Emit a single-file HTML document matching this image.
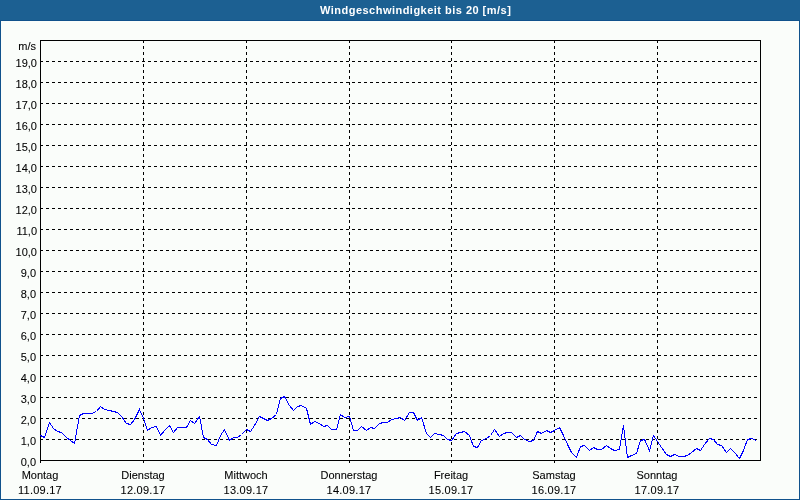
<!DOCTYPE html>
<html><head><meta charset="utf-8"><style>
html,body{margin:0;padding:0;}
body{width:800px;height:500px;position:relative;overflow:hidden;background:#fafdfa;font-family:"Liberation Sans",sans-serif;font-size:11px;color:#000;}
#frame{position:absolute;left:0;top:0;width:798px;height:478px;border:1px solid #10528c;border-top:none;top:21px;}
#title{position:absolute;left:0;top:0;width:800px;height:20px;background:#1c6092;}
#tline{position:absolute;left:0;top:20px;width:800px;height:1px;background:#10528c;}
#ttext{position:absolute;left:320px;top:3px;color:#fff;font-weight:bold;font-size:11px;white-space:nowrap;line-height:14px;letter-spacing:0.48px;}
.yl{position:absolute;left:0;width:37px;text-align:right;line-height:14px;white-space:nowrap;}
.xl{position:absolute;width:120px;text-align:center;line-height:14px;white-space:nowrap;}
#ms{position:absolute;left:0;width:36px;text-align:right;top:39px;line-height:14px;}
svg{position:absolute;left:0;top:0;}
#txt{position:absolute;left:0;top:0;width:800px;height:500px;will-change:transform;-webkit-text-stroke:0.08px #000;}
#tt{position:absolute;left:0;top:0;width:800px;height:21px;will-change:transform;}
</style></head><body>
<div id="title"></div><div id="tline"></div>
<div id="frame"></div>
<div id="tt"><div id="ttext">Windgeschwindigkeit bis 20 [m/s]</div></div>
<svg width="800" height="500" viewBox="0 0 800 500" shape-rendering="crispEdges">
<g stroke="#000" stroke-width="1" stroke-dasharray="3 3" fill="none">
<line x1="40" y1="439.5" x2="760" y2="439.5"/>
<line x1="40" y1="418.5" x2="760" y2="418.5"/>
<line x1="40" y1="397.5" x2="760" y2="397.5"/>
<line x1="40" y1="376.5" x2="760" y2="376.5"/>
<line x1="40" y1="355.5" x2="760" y2="355.5"/>
<line x1="40" y1="334.5" x2="760" y2="334.5"/>
<line x1="40" y1="313.5" x2="760" y2="313.5"/>
<line x1="40" y1="292.5" x2="760" y2="292.5"/>
<line x1="40" y1="271.5" x2="760" y2="271.5"/>
<line x1="40" y1="250.5" x2="760" y2="250.5"/>
<line x1="40" y1="229.5" x2="760" y2="229.5"/>
<line x1="40" y1="208.5" x2="760" y2="208.5"/>
<line x1="40" y1="187.5" x2="760" y2="187.5"/>
<line x1="40" y1="166.5" x2="760" y2="166.5"/>
<line x1="40" y1="145.5" x2="760" y2="145.5"/>
<line x1="40" y1="124.5" x2="760" y2="124.5"/>
<line x1="40" y1="103.5" x2="760" y2="103.5"/>
<line x1="40" y1="82.5" x2="760" y2="82.5"/>
<line x1="40" y1="61.5" x2="760" y2="61.5"/>
<line x1="143.5" y1="40" x2="143.5" y2="460"/>
<line x1="246.5" y1="40" x2="246.5" y2="460"/>
<line x1="349.5" y1="40" x2="349.5" y2="460"/>
<line x1="451.5" y1="40" x2="451.5" y2="460"/>
<line x1="554.5" y1="40" x2="554.5" y2="460"/>
<line x1="657.5" y1="40" x2="657.5" y2="460"/>
</g>
<g stroke="#000" stroke-width="1" fill="none">
<rect x="40.5" y="40.5" width="720" height="420"/>
<line x1="40.5" y1="460" x2="40.5" y2="463"/>
<line x1="143.5" y1="460" x2="143.5" y2="463"/>
<line x1="246.5" y1="460" x2="246.5" y2="463"/>
<line x1="349.5" y1="460" x2="349.5" y2="463"/>
<line x1="451.5" y1="460" x2="451.5" y2="463"/>
<line x1="554.5" y1="460" x2="554.5" y2="463"/>
<line x1="657.5" y1="460" x2="657.5" y2="463"/>
</g>
<polyline fill="none" stroke="#0000ff" stroke-width="1" points="40.5,435.5 44.5,437.5 49.5,422.5 53.5,428.5 57.5,431.5 61.5,432.5 66.5,437.5 70.5,440.5 74.5,443.5 79.5,415.5 83.5,413.5 87.5,413.5 91.5,413.5 96.5,411.5 100.5,406.5 104.5,409.5 109.5,410.5 113.5,411.5 117.5,412.5 121.5,416.5 126.5,423.5 130.5,424.5 134.5,419.5 139.5,409.5 143.5,418.5 147.5,430.5 151.5,427.5 156.5,426.5 160.5,435.5 164.5,430.5 169.5,425.5 173.5,432.5 177.5,427.5 181.5,427.5 186.5,427.5 190.5,420.5 194.5,423.5 199.5,416.5 203.5,437.5 207.5,439.5 211.5,444.5 216.5,445.5 220.5,435.5 224.5,429.5 229.5,440.5 233.5,437.5 237.5,437.5 241.5,434.5 246.5,429.5 250.5,431.5 254.5,425.5 259.5,416.5 263.5,418.5 267.5,420.5 271.5,418.5 276.5,414.5 280.5,398.5 284.5,396.5 289.5,405.5 293.5,410.5 297.5,406.5 301.5,405.5 306.5,408.5 310.5,424.5 314.5,421.5 319.5,423.5 323.5,426.5 327.5,425.5 331.5,429.5 336.5,429.5 340.5,414.5 344.5,417.5 349.5,416.5 353.5,430.5 357.5,430.5 361.5,426.5 366.5,430.5 370.5,427.5 374.5,428.5 379.5,423.5 383.5,422.5 387.5,422.5 391.5,419.5 396.5,418.5 400.5,417.5 404.5,420.5 409.5,412.5 413.5,412.5 417.5,420.5 421.5,417.5 426.5,433.5 430.5,437.5 434.5,433.5 439.5,434.5 443.5,435.5 447.5,439.5 451.5,440.5 456.5,433.5 460.5,432.5 464.5,431.5 469.5,435.5 473.5,446.5 477.5,447.5 481.5,440.5 486.5,438.5 490.5,435.5 494.5,429.5 499.5,436.5 503.5,433.5 507.5,432.5 511.5,432.5 516.5,437.5 520.5,435.5 524.5,439.5 529.5,441.5 533.5,440.5 537.5,431.5 541.5,433.5 546.5,430.5 550.5,432.5 554.5,430.5 559.5,427.5 563.5,435.5 567.5,444.5 571.5,452.5 576.5,457.5 580.5,446.5 584.5,445.5 589.5,450.5 593.5,447.5 597.5,449.5 601.5,449.5 606.5,445.5 610.5,448.5 614.5,450.5 619.5,449.5 623.5,425.5 627.5,457.5 631.5,455.5 636.5,453.5 640.5,440.5 644.5,439.5 649.5,450.5 653.5,435.5 657.5,441.5 661.5,447.5 666.5,454.5 670.5,456.5 674.5,454.5 679.5,456.5 683.5,456.5 687.5,455.5 691.5,452.5 696.5,448.5 700.5,450.5 704.5,444.5 709.5,438.5 713.5,439.5 717.5,444.5 721.5,445.5 726.5,452.5 730.5,448.5 734.5,452.5 739.5,458.5 743.5,450.5 747.5,439.5 751.5,438.5 756.5,440.5"/>
</svg>
<div id="txt">
<div id="ms">m/s</div>
<div class="yl" style="top:455px;width:36px">0,0</div>
<div class="yl" style="top:434px;width:36px">1,0</div>
<div class="yl" style="top:413px;width:36px">2,0</div>
<div class="yl" style="top:392px;width:36px">3,0</div>
<div class="yl" style="top:371px;width:36px">4,0</div>
<div class="yl" style="top:350px;width:36px">5,0</div>
<div class="yl" style="top:329px;width:36px">6,0</div>
<div class="yl" style="top:308px;width:36px">7,0</div>
<div class="yl" style="top:287px;width:36px">8,0</div>
<div class="yl" style="top:266px;width:36px">9,0</div>
<div class="yl" style="top:245px;width:37px">10,0</div>
<div class="yl" style="top:224px;width:37px">11,0</div>
<div class="yl" style="top:203px;width:37px">12,0</div>
<div class="yl" style="top:182px;width:37px">13,0</div>
<div class="yl" style="top:161px;width:37px">14,0</div>
<div class="yl" style="top:140px;width:37px">15,0</div>
<div class="yl" style="top:119px;width:37px">16,0</div>
<div class="yl" style="top:98px;width:37px">17,0</div>
<div class="yl" style="top:77px;width:37px">18,0</div>
<div class="yl" style="top:56px;width:37px">19,0</div>
<div class="xl" style="left:-20px;top:468px">Montag</div>
<div class="xl" style="left:-20px;top:483px;letter-spacing:0.25px">11.09.17</div>
<div class="xl" style="left:83px;top:468px">Dienstag</div>
<div class="xl" style="left:83px;top:483px;letter-spacing:0.25px">12.09.17</div>
<div class="xl" style="left:186px;top:468px">Mittwoch</div>
<div class="xl" style="left:186px;top:483px;letter-spacing:0.25px">13.09.17</div>
<div class="xl" style="left:289px;top:468px">Donnerstag</div>
<div class="xl" style="left:289px;top:483px;letter-spacing:0.25px">14.09.17</div>
<div class="xl" style="left:391px;top:468px">Freitag</div>
<div class="xl" style="left:391px;top:483px;letter-spacing:0.25px">15.09.17</div>
<div class="xl" style="left:494px;top:468px">Samstag</div>
<div class="xl" style="left:494px;top:483px;letter-spacing:0.25px">16.09.17</div>
<div class="xl" style="left:597px;top:468px">Sonntag</div>
<div class="xl" style="left:597px;top:483px;letter-spacing:0.25px">17.09.17</div>
</div>
</body></html>
